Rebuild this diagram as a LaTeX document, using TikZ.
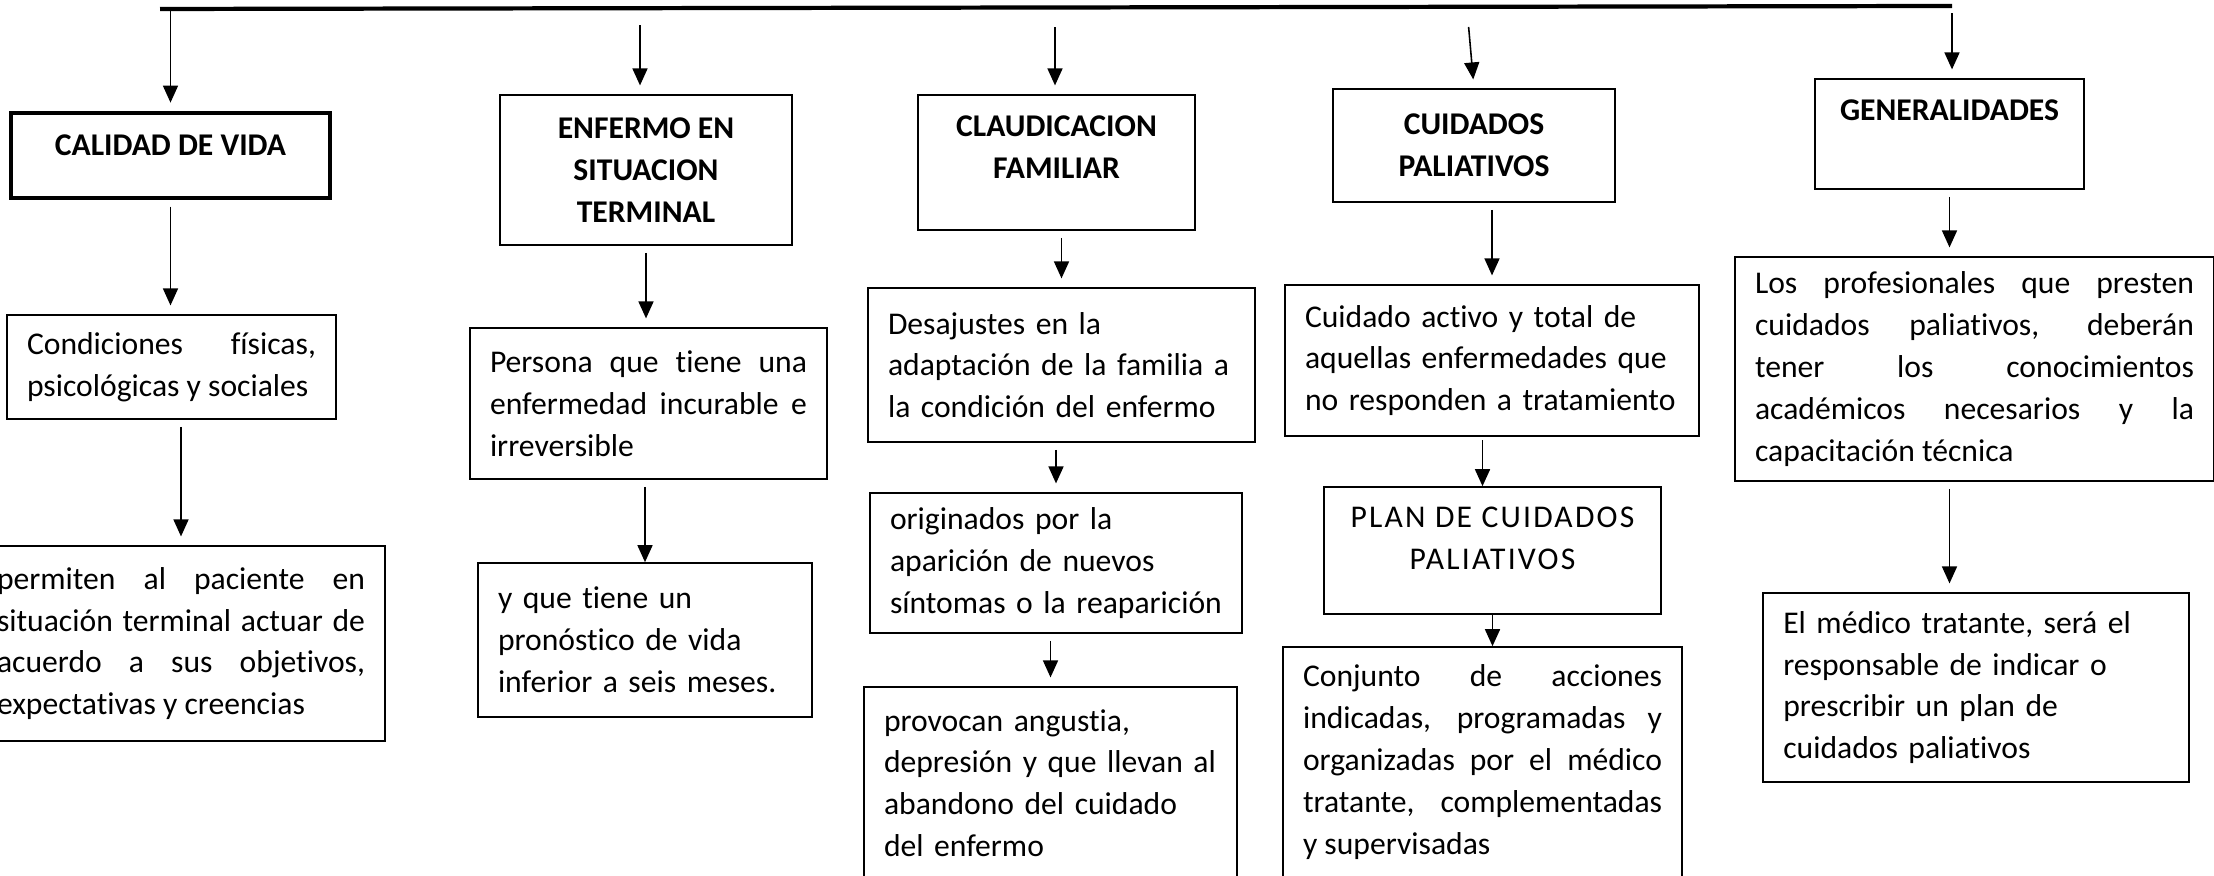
\documentclass[tikz,border=0pt]{standalone}
\usepackage{fontspec}
\setmainfont{Carlito}[Ligatures=NoCommon]
\newfontfamily\spacedfont[LetterSpace=7,Ligatures=NoCommon]{Carlito}
\usetikzlibrary{arrows.meta}

\begin{document}
\begin{tikzpicture}[
        box/.style={draw,line width=0.45pt,inner xsep=0.2cm,inner ysep=0pt,align=left,font=\fontsize{9}{11.9}\selectfont},
        jbox/.style={box,align=justify},
        head/.style={box,align=center,font=\fontsize{9}{11.9}\selectfont\bfseries},
        arr/.style={line width=0.45pt,-{Triangle[length=0.17cm,width=0.15cm]},shorten <=2pt,shorten >=2.5pt}
    ]
        \useasboundingbox (0,0) rectangle (22.14,-8.76);

        % Top bar
        \coordinate (barL) at (1.60,-0.09);
        \coordinate (barR) at (19.52,-0.06);
        \draw[line width=1.2pt] (barL) -- (barR);
        \coordinate (top2) at (6.40,-0.18);
        \coordinate (top3) at (10.55,-0.20);
        \coordinate (top4) at (14.68,-0.20);

        % Headings
        \node[head,line width=0.9pt,minimum width=3.19cm,minimum height=0.85cm,text depth=0.2cm] (calidad) at (1.705,-1.555) {CALIDAD DE VIDA};
        \node[head,minimum width=2.92cm,minimum height=1.50cm] (enfermo) at (6.46,-1.70) {ENFERMO EN\\SITUACION\\TERMINAL};
        \node[head,minimum width=2.77cm,minimum height=1.35cm,text depth=0.31cm] (claud) at (10.565,-1.625) {CLAUDICACION\\FAMILIAR};
        \node[head,minimum width=2.82cm,minimum height=1.13cm] (cuid) at (14.74,-1.455) {CUIDADOS\\PALIATIVOS};
        \node[head,minimum width=2.69cm,minimum height=1.10cm,text depth=0.47cm] (gen) at (19.495,-1.34) {GENERALIDADES};

        % Column 1
        \node[jbox,text width=2.89cm,minimum height=1.04cm] (cond) at (1.715,-3.67)
            {Condiciones físicas,\linebreak psicológicas y sociales};
        \node[jbox,text width=3.68cm,minimum height=1.95cm] (perm) at (1.81,-6.435)
            {permiten al paciente en\linebreak situación terminal actuar de\linebreak acuerdo a sus objetivos,\linebreak expectativas y creencias};

        % Column 2
        \node[jbox,text width=3.17cm,minimum height=1.51cm] (persona) at (6.485,-4.035)
            {Persona que tiene una\linebreak enfermedad incurable e\linebreak irreversible};
        \node[box,text width=2.94cm,minimum height=1.54cm] (yque) at (6.45,-6.40)
            {y que tiene un\\pronóstico de vida\\inferior a seis meses.};

        % Column 3
        \node[box,text width=3.47cm,minimum height=1.54cm] (desaj) at (10.615,-3.65)
            {Desajustes en la\\adaptación de la familia a\\la condición del enfermo};
        \node[box,text width=3.32cm,minimum height=1.40cm] (orig) at (10.56,-5.63)
            {originados por la\\aparición de nuevos\\síntomas o la reaparición};
        \node[box,text width=3.33cm,minimum height=1.92cm] (prov) at (10.505,-7.83)
            {provocan angustia,\\depresión y que llevan al\\abandono del cuidado\\del enfermo};

        % Column 4
        \node[box,text width=3.74cm,minimum height=1.51cm] (activo) at (14.92,-3.605)
            {Cuidado activo y total de\\aquellas enfermedades que\\no responden a tratamiento};
        \node[box,align=center,font=\fontsize{9}{11.9}\spacedfont,minimum width=3.37cm,minimum height=1.27cm,text depth=0.24cm] (plan) at (14.925,-5.505)
            {PLAN DE CUIDADOS\\PALIATIVOS};
        \node[jbox,text width=3.59cm,minimum height=2.30cm] (conj) at (14.825,-7.62)
            {Conjunto de acciones\linebreak indicadas, programadas y\linebreak organizadas por el médico\linebreak tratante, complementadas\linebreak y supervisadas};

        % Column 5
        \node[jbox,text width=4.39cm,minimum height=2.24cm] (prof) at (19.745,-3.69)
            {Los profesionales que presten\linebreak cuidados paliativos, deberán\linebreak tener los conocimientos\linebreak académicos necesarios y la\linebreak capacitación técnica};
        \node[box,text width=3.855cm,minimum height=1.89cm] (medico) at (19.76,-6.875)
            {El médico tratante, será el\\responsable de indicar o\\prescribir un plan de\\cuidados paliativos};

        % Arrows from the bar
        \draw[arr,shorten <=0pt] (barL -| calidad.north) -- (calidad.north);
        \draw[arr] (top2) -- (top2 |- enfermo.north);
        \draw[arr] (top3) -- (top3 |- claud.north);
        \draw[arr] (top4) -- (cuid.north);
        \draw[arr] (barR) -- (barR |- gen.north);

        % Arrows between boxes
        \draw[arr] (calidad.south) -- (calidad.south |- cond.north);
        \draw[arr] (cond.south -| perm.north) -- (perm.north);
        \draw[arr] (enfermo.south) -- (enfermo.south |- persona.north);
        \draw[arr,shorten >=0pt] (persona.south -| yque.north) -- (yque.north);
        \draw[arr] (claud.south -| desaj.north) -- (desaj.north);
        \draw[arr] (desaj.south -| orig.north) -- (orig.north);
        \draw[arr] (orig.south -| prov.north) -- (prov.north);
        \draw[arr] (cuid.south -| activo.north) -- (activo.north);
        \draw[arr,shorten <=1pt,shorten >=0pt] ([xshift=-0.1cm]activo.south -| plan.north) -- ([xshift=-0.1cm]plan.north);
        \draw[arr,shorten <=0pt,shorten >=0pt] (plan.south) -- (plan.south |- conj.north);
        \draw[arr] (gen.south) -- (gen.south |- prof.north);
        \draw[arr] (prof.south -| gen.south) -- (gen.south |- medico.north);
    \end{tikzpicture}
\end{document}
